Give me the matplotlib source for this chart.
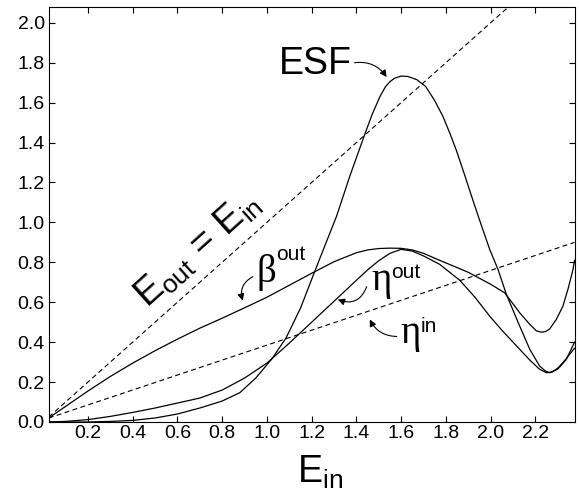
import matplotlib
matplotlib.use("Agg")
import matplotlib.pyplot as plt

plt.rcParams['font.family'] = ['Liberation Sans', 'DejaVu Sans']
plt.rcParams['mathtext.fontset'] = 'custom'
plt.rcParams['mathtext.rm'] = 'Liberation Sans'
plt.rcParams['mathtext.it'] = 'Liberation Sans:italic'

# values
beta_x = [0.025, 0.1, 0.2, 0.3, 0.4, 0.5, 0.6, 0.7, 0.8, 0.9, 1.0, 1.1, 1.2, 1.3, 1.4,
          1.45, 1.5, 1.55, 1.6, 1.65, 1.7, 1.772, 1.8, 1.9, 2.0, 2.063, 2.13, 2.175,
          2.204, 2.226, 2.245, 2.263, 2.293, 2.323, 2.345, 2.368, 2.375]
beta_y = [0.02, 0.078, 0.155, 0.228, 0.295, 0.357, 0.415, 0.47, 0.52, 0.572, 0.625, 0.685,
          0.745, 0.803, 0.848, 0.862, 0.869, 0.871, 0.87, 0.862, 0.845, 0.81, 0.797, 0.75,
          0.69, 0.647, 0.547, 0.489, 0.457, 0.45, 0.453, 0.465, 0.513, 0.58, 0.663, 0.763,
          0.81]

eta_out_x = [0.025, 0.1, 0.2, 0.3, 0.4, 0.5, 0.6, 0.7, 0.8, 0.9, 1.0, 1.1, 1.2, 1.3, 1.4,
             1.45, 1.5, 1.55, 1.6, 1.65, 1.7, 1.772, 1.862, 1.93, 1.996, 2.05, 2.13,
             2.175, 2.219, 2.249, 2.275, 2.3, 2.325, 2.35, 2.375]
eta_out_y = [0.0, 0.003, 0.012, 0.028, 0.048, 0.07, 0.095, 0.12, 0.16, 0.22, 0.295, 0.395,
             0.5, 0.605, 0.71, 0.762, 0.808, 0.845, 0.865, 0.856, 0.832, 0.79, 0.71, 0.625,
             0.53, 0.46, 0.364, 0.31, 0.264, 0.247, 0.25, 0.27, 0.3, 0.335, 0.37]

esf_x = [0.025, 0.2, 0.3, 0.4, 0.5, 0.6, 0.7, 0.8, 0.879, 0.95, 1.02, 1.085, 1.15, 1.214,
         1.26, 1.311, 1.37, 1.437, 1.47, 1.505, 1.53, 1.55, 1.57, 1.60, 1.63, 1.67, 1.71,
         1.75, 1.787, 1.82, 1.847, 1.88, 1.921, 1.96, 1.996, 2.033, 2.07, 2.13, 2.175,
         2.219, 2.245, 2.264, 2.3, 2.338, 2.375]
esf_y = [0.0, 0.0, 0.003, 0.008, 0.02, 0.04, 0.07, 0.105, 0.147, 0.22, 0.313, 0.42, 0.57,
         0.755, 0.886, 1.03, 1.23, 1.44, 1.54, 1.63, 1.68, 1.705, 1.722, 1.733, 1.731,
         1.715, 1.68, 1.61, 1.53, 1.44, 1.36, 1.25, 1.11, 0.98, 0.864, 0.764, 0.64, 0.48,
         0.364, 0.28, 0.255, 0.247, 0.265, 0.313, 0.40]

diag_x = [0.025, 2.375]
diag_y = [0.025, 2.375]

eta_in_x = [0.025, 2.375]
eta_in_y = [0.02, 0.90]

xticks = [0.2, 0.4, 0.6, 0.8, 1.0, 1.2, 1.4, 1.6, 1.8, 2.0, 2.2]
yticks = [0.0, 0.2, 0.4, 0.6, 0.8, 1.0, 1.2, 1.4, 1.6, 1.8, 2.0]

fig = plt.figure(figsize=(5.79, 4.93), dpi=100)
ax = fig.add_axes([49 / 579, 71 / 493, 526 / 579, 415 / 493])

dash = (0, (4.5, 3))
ax.plot(diag_x, diag_y, color='k', lw=0.8, linestyle=dash)
ax.plot(eta_in_x, eta_in_y, color='k', lw=0.8, linestyle=dash)
ax.plot(beta_x, beta_y, color='k', lw=0.9)
ax.plot(eta_out_x, eta_out_y, color='k', lw=0.9)
ax.plot(esf_x, esf_y, color='k', lw=0.9)

ax.set_xlim(0.026, 2.377)
ax.set_ylim(0.0, 2.079)
ax.set_xticks(xticks)
ax.set_xticklabels(['%.1f' % v for v in xticks])
ax.set_yticks(yticks)
ax.set_yticklabels(['%.1f' % v for v in yticks])
ax.tick_params(direction='in', top=True, right=True, length=4, width=0.8, labelsize=14)
ax.tick_params(axis='x', pad=2)
ax.tick_params(axis='y', pad=3)
for s in ax.spines.values():
    s.set_linewidth(0.8)

big = 27
ax.text(1.218, 1.794, 'ESF', fontsize=big, ha='center', va='center')
ax.text(0.691, 0.864, r'$\mathrm{E}_{\mathrm{out}}\,=\,\mathrm{E}_{\mathrm{in}}$',
        fontsize=big, ha='center', va='center', rotation=42)

# greek symbols and their superscripts
greek = 'Liberation Serif'
ax.text(0.955, 0.7035, '\u03b2', fontsize=28, family=greek, ha='left', va='baseline')
ax.text(1.04, 0.8135, 'out', fontsize=15, ha='left', va='baseline')
ax.text(1.4685, 0.6635, '\u03b7', fontsize=28, family=greek, ha='left', va='baseline')
ax.text(1.5534, 0.7235, 'out', fontsize=15, ha='left', va='baseline')
ax.text(1.598, 0.3935, '\u03b7', fontsize=28, family=greek, ha='left', va='baseline')
ax.text(1.6873, 0.4485, 'in', fontsize=15, ha='left', va='baseline')

# curved pointers
arrows = [((1.392, 1.80), (1.535, 1.728), -0.3),
          ((0.937, 0.728), (0.892, 0.608), 0.4),
          ((1.446, 0.678), (1.317, 0.614), -0.5),
          ((1.58, 0.4285), (1.46, 0.5135), -0.3)]
for tail, tip, rad in arrows:
    ax.annotate('', xy=tip, xytext=tail,
                arrowprops=dict(arrowstyle='-|>', color='k', lw=0.8, mutation_scale=10,
                                shrinkA=0, shrinkB=0,
                                connectionstyle='arc3,rad=%s' % rad))

fig.text(320 / 579, 10 / 493, r'$\mathrm{E}_{\mathrm{in}}$', fontsize=big,
         ha='center', va='baseline')

fig.savefig('out.png', dpi=100)
